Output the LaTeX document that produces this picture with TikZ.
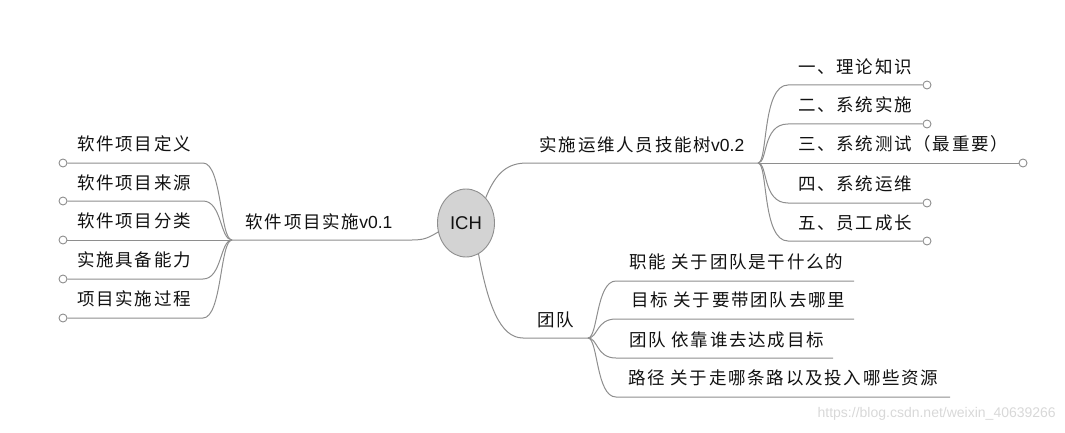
\documentclass[tikz,border=0pt]{standalone}
\usepackage{fontspec}
\setmainfont{Noto Sans CJK SC}[LetterSpace=10]
\newfontfamily\arialf{Liberation Sans}
\usetikzlibrary{shapes.geometric}
\definecolor{ln}{HTML}{8E8E8E}
\definecolor{tx}{HTML}{111111}
\definecolor{ichfill}{HTML}{D3D3D3}
\definecolor{wm}{HTML}{D8D8D8}
\newcommand{\lat}[1]{{\arialf #1}}
\begin{document}
\begin{tikzpicture}[x=1pt,y=-1pt,
  conn/.style={draw=ln,line width=1pt},
  dot/.style={circle,draw=ln,fill=white,line width=0.9pt,minimum size=8pt,inner sep=0pt},
  lbl/.style={anchor=west,inner sep=0pt,text=tx,font=\fontsize{17.5}{19}\selectfont},
  blbl/.style={anchor=center,inner sep=0pt,text=tx,font=\fontsize{17.5}{19}\selectfont}]
\useasboundingbox (0,0) rectangle (1065,433);

% centre
\node[ellipse,draw=ln,fill=ichfill,line width=0.9pt,minimum width=57pt,minimum height=68pt,inner sep=0pt,
  font=\arialf\fontsize{18.5}{20}\selectfont,text=tx] (ich) at (466,223) {ICH};

% junction points
\coordinate (lc) at (232,240);
\coordinate (rc) at (758,163);
\coordinate (tc) at (588,338);

% ---- left branch
\node[blbl] (lb) at (319,222) {软件项目实施\lat{v0.1}};
\draw[conn] (ich.198) .. controls (428,238) and (424,240) .. (412,240) -- (lc);

\node[dot] (l1) at (63,163) {};
\node[dot] (l2) at (63,201) {};
\node[dot] (l3) at (63,240) {};
\node[dot] (l4) at (63,279) {};
\node[dot] (l5) at (63,318) {};
\node[lbl] (t1) at (77,144) {软件项目定义};
\node[lbl] (t2) at (77,183) {软件项目来源};
\node[lbl] (t3) at (77,221) {软件项目分类};
\node[lbl] (t4) at (77,260) {实施具备能力};
\node[lbl] (t5) at (77,299) {项目实施过程};
\draw[conn] (lc) .. controls (220,240) and (222,163) .. (203,163) -- (l1.east);
\draw[conn] (lc) .. controls (220,240) and (222,201) .. (203,201) -- (l2.east);
\draw[conn] (lc) -- (l3.east);
\draw[conn] (lc) .. controls (220,240) and (222,279) .. (203,279) -- (l4.east);
\draw[conn] (lc) .. controls (220,240) and (222,318) .. (203,318) -- (l5.east);

% ---- upper right branch
\node[blbl] (rb) at (642,145) {实施运维人员技能树\lat{v0.2}};
\draw[conn] (ich.52) .. controls (496,172) and (508,163) .. (527,163) -- (rc);

\node[dot] (r1) at (927,85) {};
\node[dot] (r2) at (927,124) {};
\node[dot] (r3) at (1023,163) {};
\node[dot] (r4) at (927,203) {};
\node[dot] (r5) at (927,241) {};
\node[lbl] (s1) at (798,67) {一、理论知识};
\node[lbl] (s2) at (798,105) {二、系统实施};
\node[lbl] (s3) at (798,144) {三、系统测试（最重要）};
\node[lbl] (s4) at (798,184) {四、系统运维};
\node[lbl] (s5) at (798,223) {五、员工成长};
\draw[conn] (rc) .. controls (768,163) and (762,85) .. (788,85) -- (r1.west);
\draw[conn] (rc) .. controls (768,163) and (762,124) .. (788,124) -- (r2.west);
\draw[conn] (rc) -- (r3.west);
\draw[conn] (rc) .. controls (768,163) and (762,203) .. (788,203) -- (r4.west);
\draw[conn] (rc) .. controls (768,163) and (762,241) .. (788,241) -- (r5.west);

% ---- team branch
\node[blbl] (tb) at (556,320) {团队};
\draw[conn] (ich.-68) .. controls (488,305) and (500,338) .. (523,338) -- (tc);

\coordinate (e1) at (854,281);
\coordinate (e2) at (854,319);
\coordinate (e3) at (833,358);
\coordinate (e4) at (950,397);
\node[lbl] (u1) at (629,262) {职能 关于团队是干什么的};
\node[lbl] (u2) at (631,300) {目标 关于要带团队去哪里};
\node[lbl] (u3) at (629,340) {团队 依靠谁去达成目标};
\node[lbl] (u4) at (628,378) {路径 关于走哪条路以及投入哪些资源};
\draw[conn] (tc) .. controls (598,338) and (596,281) .. (616,281) -- (e1);
\draw[conn] (tc) .. controls (598,338) and (596,319) .. (616,319) -- (e2);
\draw[conn] (tc) .. controls (598,338) and (596,358) .. (616,358) -- (e3);
\draw[conn] (tc) .. controls (598,338) and (596,397) .. (616,397) -- (e4);

% watermark
\node[anchor=east,inner sep=0pt,text=wm,font=\arialf\fontsize{14}{16}\selectfont] (wmk) at (1056,414) {https://blog.csdn.net/weixin\_40639266};
\end{tikzpicture}
\end{document}
